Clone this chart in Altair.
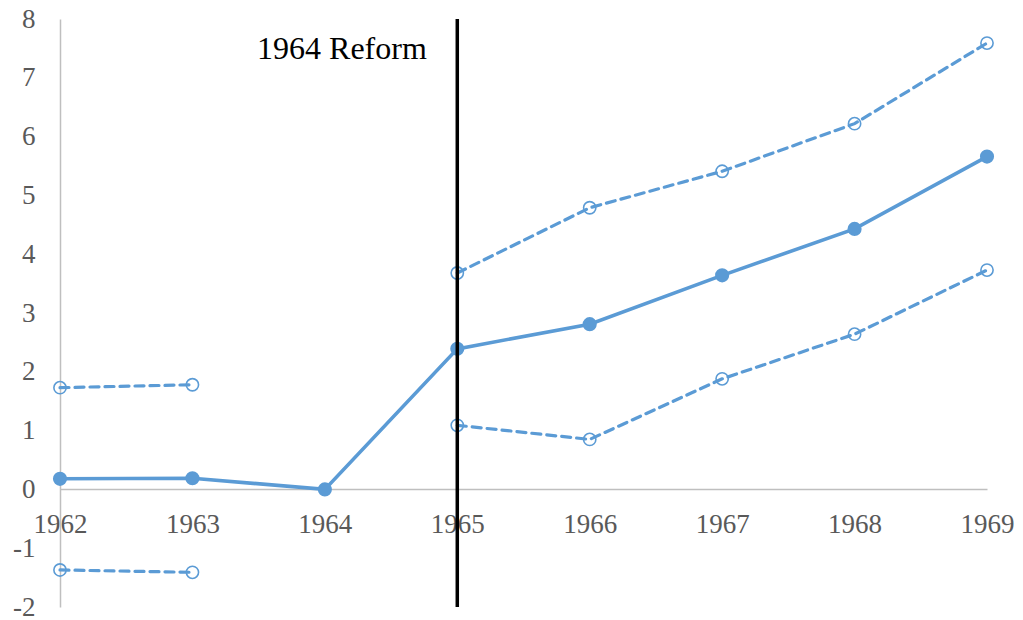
import altair as alt
import pandas as pd

years = [1962, 1963, 1964, 1965, 1966, 1967, 1968, 1969]
estimate = [0.18, 0.19, 0.0, 2.39, 2.81, 3.64, 4.43, 5.66]
upper = [1.73, 1.78, None, 3.68, 4.79, 5.41, 6.22, 7.59]
lower = [-1.37, -1.41, None, 1.09, 0.85, 1.88, 2.64, 3.73]
x_ticks = years
y_ticks = [-2, -1, 0, 1, 2, 3, 4, 5, 6, 7, 8]
reform_year = 1965
annotation = "1964 Reform"

BLUE = "#5B9BD5"
FONT = "Liberation Serif"

est_df = pd.DataFrame({"year": years, "value": estimate})
rows = []
for name, vals in (("upper", upper), ("lower", lower)):
    for y, v in zip(years, vals):
        if v is None:
            continue
        rows.append({"year": y, "value": v,
                     "seg": f"{name}_{'pre' if y < 1964 else 'post'}"})
ci_df = pd.DataFrame(rows)

xs = alt.Scale(domain=[1962, 1969], nice=False, zero=False)
ys = alt.Scale(domain=[-2, 8], nice=False)

x_axis = alt.Axis(values=x_ticks, format="d", title=None, ticks=False,
                  grid=False, offset=-118, labelPadding=22,
                  domainColor="#bfbfbf", domainWidth=1.5,
                  labelFont=FONT, labelFontSize=27, labelColor="#595959",
                  labelOverlap=False, labelFlush=False)
y_axis = alt.Axis(values=y_ticks, labelExpr="'' + datum.value", title=None,
                  ticks=False, grid=False,
                  labelPadding=25, domainColor="#bfbfbf", domainWidth=1.5,
                  labelFont=FONT, labelFontSize=27, labelColor="#595959",
                  labelOverlap=False, labelFlush=False)

base_axes = alt.Chart(est_df).mark_point(opacity=0).encode(
    x=alt.X("year:Q", scale=xs, axis=x_axis),
    y=alt.Y("value:Q", scale=ys, axis=y_axis),
)

ci_lines = alt.Chart(ci_df).mark_line(
    color=BLUE, strokeWidth=3.2, strokeDash=[9, 6], strokeCap="round"
).encode(
    x=alt.X("year:Q", scale=xs),
    y=alt.Y("value:Q", scale=ys),
    detail="seg:N",
)
ci_pts = alt.Chart(ci_df).mark_point(
    shape="circle", filled=False, color=BLUE, size=150, strokeWidth=1.6, opacity=1
).encode(
    x=alt.X("year:Q", scale=xs),
    y=alt.Y("value:Q", scale=ys),
)

est_line = alt.Chart(est_df).mark_line(color=BLUE, strokeWidth=3.6).encode(
    x=alt.X("year:Q", scale=xs),
    y=alt.Y("value:Q", scale=ys),
)
est_pts = alt.Chart(est_df).mark_point(
    shape="circle", filled=True, color=BLUE, size=200, opacity=1
).encode(
    x=alt.X("year:Q", scale=xs),
    y=alt.Y("value:Q", scale=ys),
)

rule = alt.Chart(pd.DataFrame({"year": [reform_year]})).mark_rule(
    color="black", strokeWidth=3.5
).encode(x=alt.X("year:Q", scale=xs))

label = alt.Chart(pd.DataFrame({"year": [1964.77], "value": [7.49], "t": [annotation]})).mark_text(
    align="right", baseline="middle", font=FONT, fontSize=32, color="black"
).encode(
    x=alt.X("year:Q", scale=xs),
    y=alt.Y("value:Q", scale=ys),
    text="t:N",
)

chart = alt.layer(base_axes, ci_lines, ci_pts, est_line, est_pts, rule, label).properties(
    width=927, height=588,
    autosize=alt.AutoSizeParams(type="none"),
    padding={"left": 52, "top": 11, "right": 28, "bottom": 13},
).configure_view(stroke=None)

chart.save("out.html", embed_options={"renderer": "svg", "actions": False})
